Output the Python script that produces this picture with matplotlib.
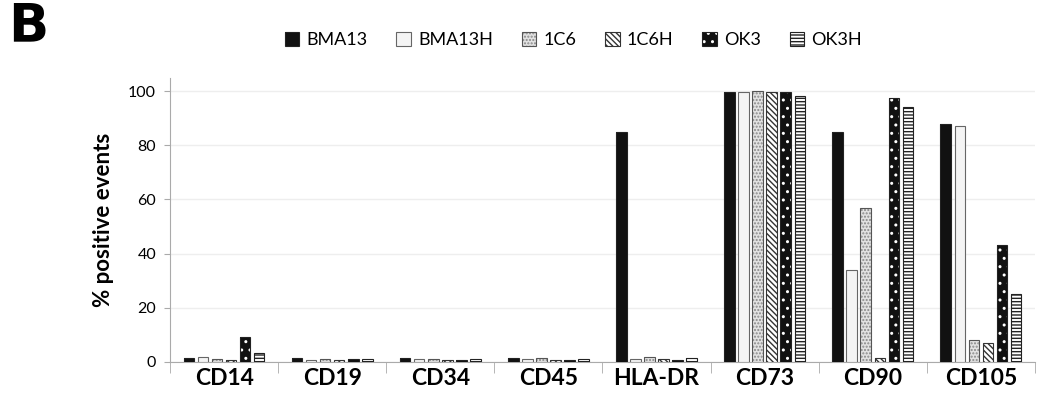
import matplotlib.pyplot as plt
import numpy as np
from matplotlib.patches import Patch

plt.rcParams['font.family'] = ['Lato', 'DejaVu Sans']
plt.rcParams['hatch.linewidth'] = 1.0

markers = ['CD14', 'CD19', 'CD34', 'CD45', 'HLA-DR', 'CD73', 'CD90', 'CD105']
lines = ['BMA13', 'BMA13H', '1C6', '1C6H', 'OK3', 'OK3H']
bma13 = [1.5, 1.3, 1.4, 1.6, 85.0, 99.8, 85.0, 88.0]
bma13h = [1.8, 0.8, 1.0, 1.2, 1.0, 99.8, 33.8, 87.3]
c1c6 = [1.2, 1.2, 1.1, 1.3, 1.7, 99.9, 56.8, 8.3]
c1c6h = [0.8, 0.9, 0.7, 0.8, 1.1, 99.8, 1.6, 6.9]
ok3 = [9.3, 1.0, 0.9, 0.9, 0.8, 99.6, 97.3, 43.2]
ok3h = [3.3, 1.2, 1.2, 1.1, 1.5, 98.2, 94.3, 25.2]
series = [bma13, bma13h, c1c6, c1c6h, ok3, ok3h]

# face, hatch, hatch colour, outline
styles = [
    ('#111111', '', '#111111', '#222222'),
    ('#f4f4f4', '', '#f4f4f4', '#666666'),
    ('#e2e2e2', '.....', '#888888', '#555555'),
    ('#ffffff', '\\\\\\\\\\\\', '#333333', '#333333'),
    ('#111111', '..', '#ffffff', '#222222'),
    ('#ffffff', '-----', '#222222', '#222222'),
]

fig = plt.figure(figsize=(10.37, 4.04), dpi=100)
ax = fig.add_axes([0.164, 0.104, 0.834, 0.704])

x = np.arange(len(markers))
pitch = 0.13
width = 0.097
handles = []
for i, (vals, (fc, h, hc, ec)) in enumerate(zip(series, styles)):
    pos = x + (i - 2.5) * pitch
    ax.bar(pos, vals, width, color=fc, hatch=h, edgecolor=hc, linewidth=0, zorder=3)
    ax.bar(pos, vals, width, fill=False, edgecolor=ec, linewidth=0.8, zorder=4)
    handles.append((Patch(facecolor=fc, hatch=h, edgecolor=hc, linewidth=0),
                    Patch(fill=False, edgecolor=ec, linewidth=0.8)))

ax.set_xlim(-0.5, len(markers) - 0.5)
ax.set_ylim(0, 105)
ax.set_yticks(range(0, 101, 20))
ax.yaxis.grid(True, color='#eeeeee', linewidth=1, zorder=0)
ax.set_xticks(x)
ax.set_xticklabels(markers, fontsize=16.5, fontweight='bold')
ax.set_xticks(np.arange(-0.5, len(markers)), minor=True)
ax.tick_params(axis='x', which='major', length=0, pad=4)
ax.tick_params(axis='x', which='minor', length=8, color='#aaaaaa')
ax.tick_params(axis='y', length=4, color='#aaaaaa', labelsize=11.5, pad=6)
for s in ['top', 'right']:
    ax.spines[s].set_visible(False)
for s in ['left', 'bottom']:
    ax.spines[s].set_color('#aaaaaa')
ax.set_ylabel('% positive events', fontsize=16, fontweight='bold', labelpad=10)

leg = fig.legend(handles, lines, loc='center', bbox_to_anchor=(0.553, 0.9), ncol=6,
                 frameon=False, fontsize=13, handlelength=0.8, handleheight=0.8,
                 columnspacing=1.6, handletextpad=0.4)

fig.text(0.008, 0.935, 'B', fontsize=38, fontweight='heavy', va='center', ha='left',
         family='DejaVu Sans')

fig.savefig('out.png', dpi=100)
